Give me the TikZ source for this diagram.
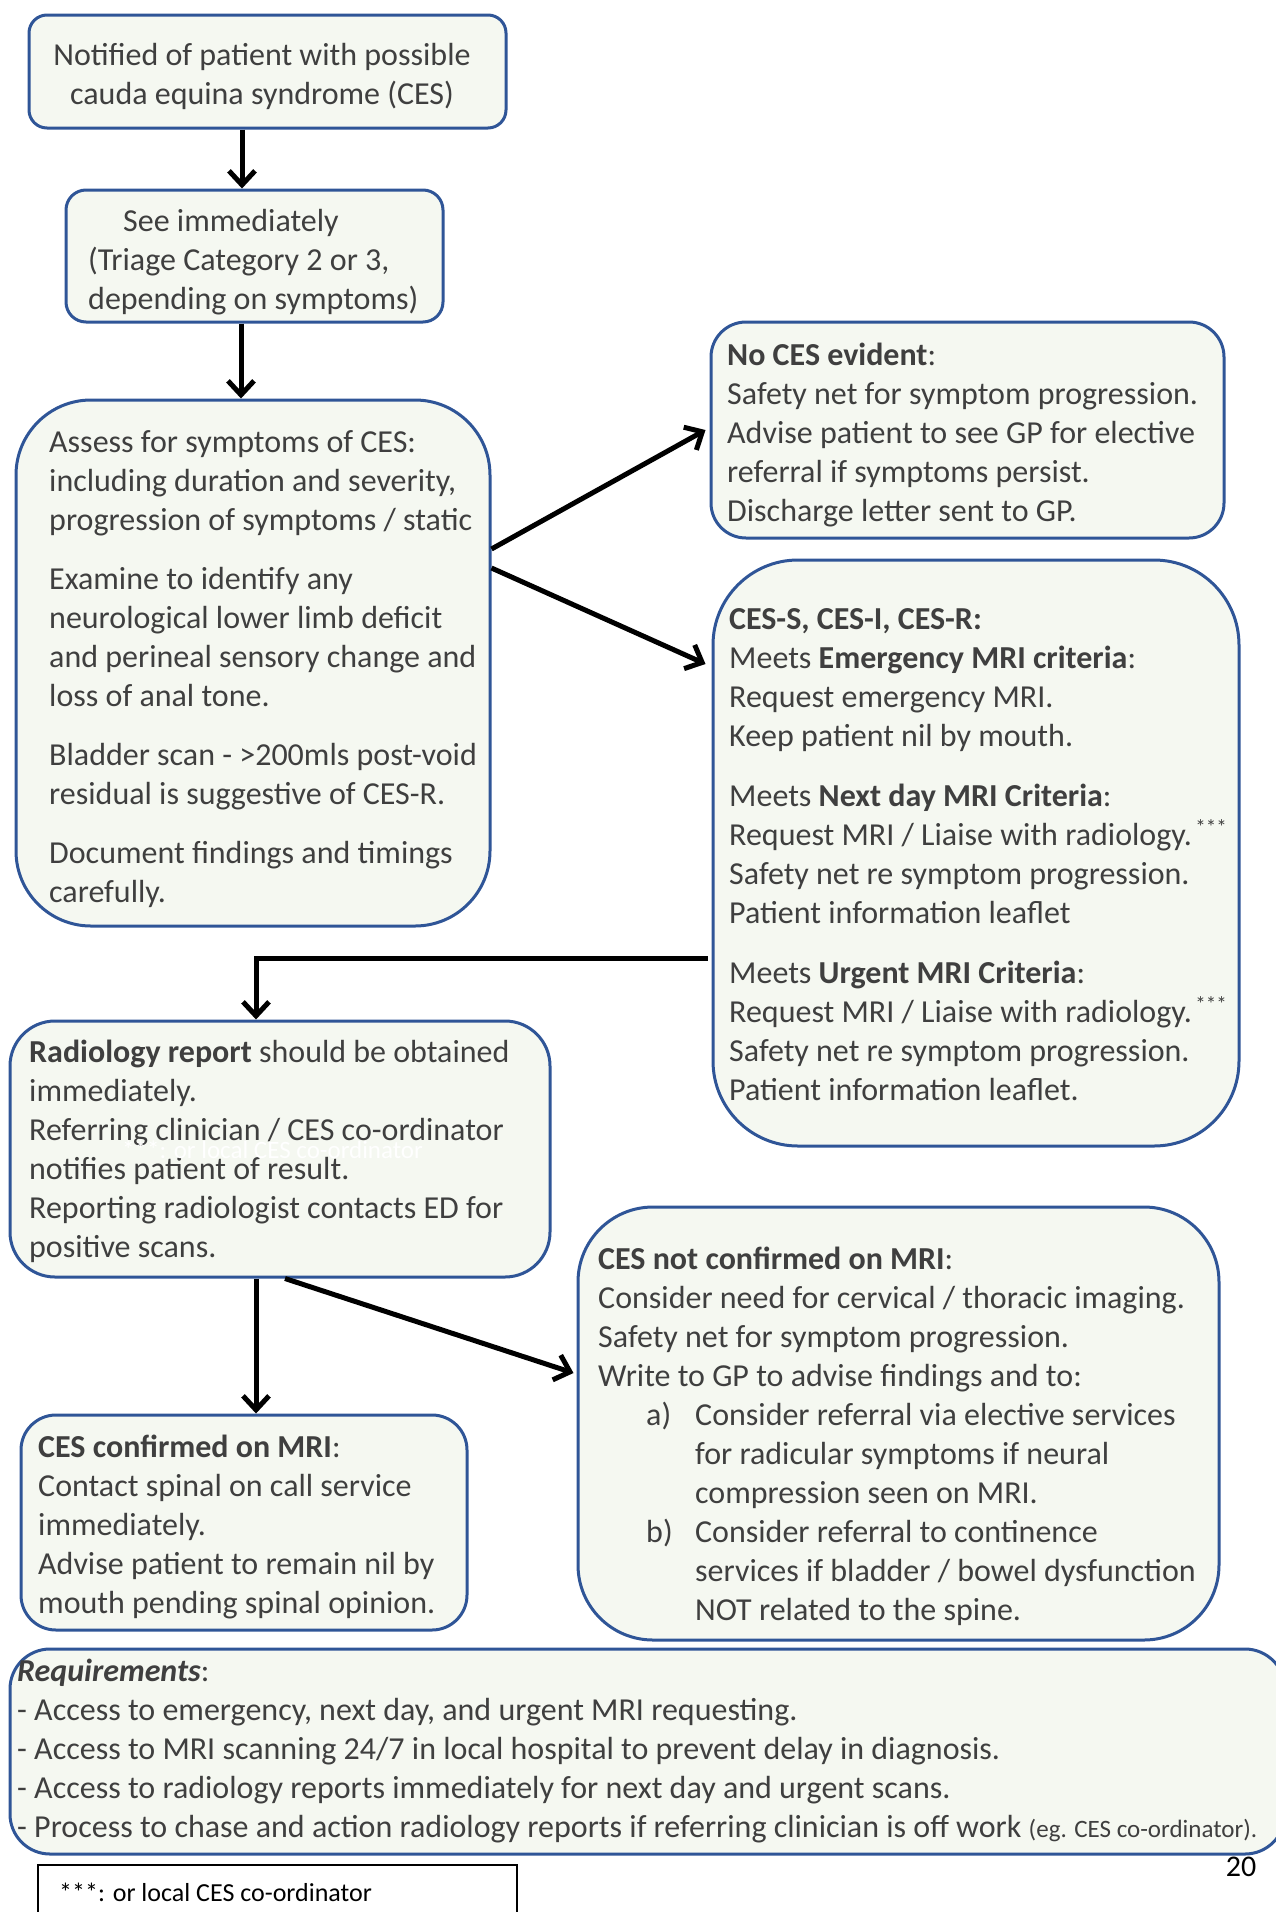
\documentclass[tikz,border=0pt]{standalone}
\usepackage{fontspec}
\setmainfont{Carlito}
\usetikzlibrary{arrows.meta,calc}
\definecolor{boxfill}{HTML}{F5F8F1}
\definecolor{boxline}{HTML}{2F5597}
\definecolor{txt}{HTML}{3F3F3F}
\tikzset{
 box/.style={draw=boxline, fill=boxfill, line width=3pt, rectangle, inner sep=0pt},
 txtnode/.style={anchor=north west, inner sep=0pt, align=left, text=txt, font=\fontsize{32}{39}\selectfont},
 arr/.style={line width=5pt, -{Straight Barb[length=14pt,width=26pt]}},
}
\newcommand{\tstars}{\raisebox{11pt}{\fontsize{21}{21}\selectfont\,***}}
\begin{document}
\begin{tikzpicture}[x=1pt,y=-1pt]
\useasboundingbox (0,0) rectangle (1275,1912);
% boxes
\node[box, rounded corners=18pt, minimum width=477pt, minimum height=113pt] (b1) at (267.5,71.5) {};
\node[box, rounded corners=20pt, minimum width=377pt, minimum height=132pt] (b2) at (254.5,256) {};
\node[box, rounded corners=75pt, minimum width=474pt, minimum height=526pt] (b3) at (253,663) {};
\node[box, rounded corners=35pt, minimum width=513pt, minimum height=216pt] (b4) at (967.5,430) {};
\node[box, rounded corners=85pt, minimum width=526pt, minimum height=586pt] (b5) at (976,853) {};
\node[box, rounded corners=45pt, minimum width=540pt, minimum height=256pt] (b6) at (280,1149) {};
\node[box, rounded corners=75pt, minimum width=641pt, minimum height=433pt] (b7) at (898.5,1423.5) {};
\node[box, rounded corners=35pt, minimum width=446pt, minimum height=215pt] (b8) at (244,1522.5) {};
\node[box, rounded corners=40pt, minimum width=1275pt, minimum height=205pt] (b9) at (647.5,1751.5) {};
\node[draw=black, line width=2pt, rectangle, minimum width=479pt, minimum height=65pt, inner sep=0pt] (fn) at (277.5,1897.5) {};
% texts
\node[txtnode, anchor=north, align=center] (t1) at (262,37.7) {\strut Notified of patient with possible\\cauda equina syndrome (CES)};
\node[txtnode] (t2) at (88,203.7) {\strut\hspace*{35pt}See immediately\\(Triage Category 2 or 3,\\depending on symptoms)};
\node[txtnode] (t3) at (49,424.7) {\strut Assess for symptoms of CES:\\
including duration and severity,\\
progression of symptoms / static\\[20pt]
Examine to identify any\\
neurological lower limb deficit\\
and perineal sensory change and\\
loss of anal tone.\\[20pt]
Bladder scan - >200mls post-void\\
residual is suggestive of CES-R.\\[20pt]
Document findings and timings\\
carefully.};
\node[txtnode] (t4) at (727,337.7) {\strut\textbf{No CES evident}:\\
Safety net for symptom progression.\\
Advise patient to see GP for elective\\
referral if symptoms persist.\\
Discharge letter sent to GP.};
\node[txtnode] (t5) at (729,601.7) {\strut\textbf{CES-S, CES-I, CES-R:}\\
Meets \textbf{Emergency MRI criteria}:\\
Request emergency MRI.\\
Keep patient nil by mouth.\\[21pt]
Meets \textbf{Next day MRI Criteria}:\\
Request MRI / Liaise with radiology.\tstars\\
Safety net re symptom progression.\\
Patient information leaflet\\[21pt]
Meets \textbf{Urgent MRI Criteria}:\\
Request MRI / Liaise with radiology.\tstars\\
Safety net re symptom progression.\\
Patient information leaflet.};
\node[txtnode] (t6) at (29,1034.7) {\strut\textbf{Radiology report} should be obtained\\
immediately.\\
Referring clinician / CES co-ordinator\\
notifies patient of result.\\
Reporting radiologist contacts ED for\\
positive scans.};
\node[anchor=base west, inner sep=0pt, text=white, font=\fontsize{25}{30}\selectfont] (ghost) at (122,1158) {***: or local CES co-ordinator};
\node[txtnode] (t7) at (598,1241.7) {\strut\textbf{CES not confirmed on MRI}:\\
Consider need for cervical / thoracic imaging.\\
Safety net for symptom progression.\\
Write to GP to advise findings and to:\\
\hspace*{48pt}\makebox[49pt][l]{a)}Consider referral via elective services\\
\hspace*{97pt}for radicular symptoms if neural\\
\hspace*{97pt}compression seen on MRI.\\
\hspace*{48pt}\makebox[49pt][l]{b)}Consider referral to continence\\
\hspace*{97pt}services if bladder / bowel dysfunction\\
\hspace*{97pt}NOT related to the spine.};
\node[txtnode] (t8) at (38,1429.7) {\strut\textbf{CES confirmed on MRI}:\\
Contact spinal on call service\\
immediately.\\
Advise patient to remain nil by\\
mouth pending spinal opinion.};
\node[txtnode] (t9) at (17,1653.7) {\strut\textbf{\textit{Requirements}}:\\
- Access to emergency, next day, and urgent MRI requesting.\\
- Access to MRI scanning 24/7 in local hospital to prevent delay in diagnosis.\\
- Access to radiology reports immediately for next day and urgent scans.\\
- Process to chase and action radiology reports if referring clinician is off work {\fontsize{25}{39}\selectfont(eg. CES co-ordinator).}};
\node[anchor=base west, inner sep=0pt, text=black, font=\fontsize{26}{30}\selectfont] (tfn) at (59,1901) {***: or local CES co-ordinator};
\node[anchor=base, inner sep=0pt, text=black, font=\fontsize{30}{36}\selectfont] (pg) at (1241,1876) {20};
% connectors
\draw[arr] ([xshift=-25.5pt]b1.south) -- ([xshift=-12.5pt]b2.north);
\draw[arr] ([xshift=-13.5pt]b2.south) -- ([xshift=-12pt]b3.north);
\draw[arr] ([yshift=114pt]b3.east) -- ([xshift=-4pt]b4.west);
\draw[arr] ([yshift=95pt]b3.east) -- ([xshift=-6pt,yshift=189pt]b5.west);
\draw[arr] ([xshift=-4pt,yshift=-105pt]b5.west) -| ([xshift=-24pt]b6.north);
\draw[arr] ([xshift=-24pt]b6.south) -- ([xshift=12pt]b8.north);
\draw[arr] ([xshift=5pt]b6.south) -- ([xshift=-3pt,yshift=50.5pt]b7.west);
\end{tikzpicture}
\end{document}
